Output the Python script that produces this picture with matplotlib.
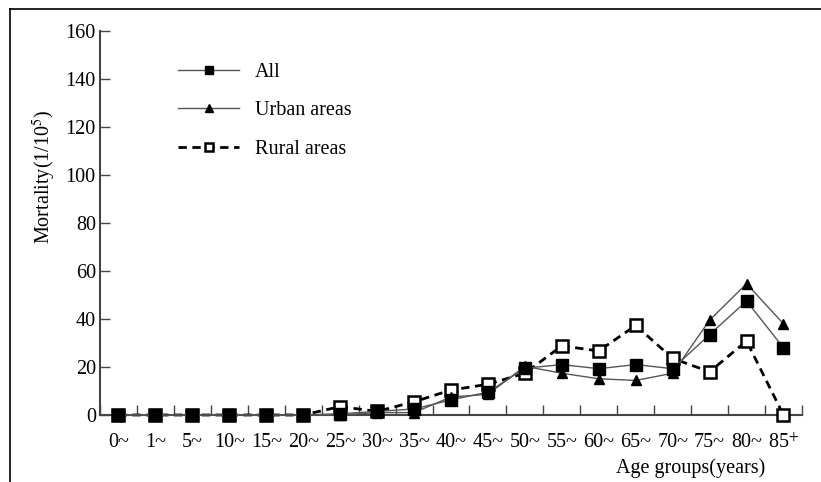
import numpy as np
import matplotlib
matplotlib.use("Agg")
import matplotlib.pyplot as plt
from matplotlib.lines import Line2D

plt.rcParams['font.family'] = ['Liberation Serif', 'DejaVu Serif']
plt.rcParams['mathtext.fontset'] = 'stix'

# age groups and mortality (1/10^5)
age_groups = ['0~', '1~', '5~', '10~', '15~', '20~', '25~', '30~', '35~', '40~',
              '45~', '50~', '55~', '60~', '65~', '70~', '75~', '80~', '85$^{+}$']
all_rate = [0, 0, 0, 0, 0, 0, 0.5, 1.5, 2.5, 6.3, 9.5, 19.5, 21, 19.3, 21, 19.3, 33.5, 47.5, 28]
urban_rate = [0, 0, 0, 0, 0, 0, 0, 1, 1, 7.5, 8.6, 20.3, 17.4, 15.1, 14.4, 17.4, 39.5, 54.7, 38]
rural_rate = [0, 0, 0, 0, 0, 0, 3.5, 1.5, 5.5, 10.4, 12.8, 17.4, 28.8, 26.7, 37.3, 23.6, 18, 30.8, 0]
y_ticks = [0, 20, 40, 60, 80, 100, 120, 140, 160]

fs = 14.5
fig = plt.figure(figsize=(8.21, 4.82), dpi=100)
ax = fig.add_axes([0.1218, 0.139, 0.855, 0.7967])

x = np.arange(len(age_groups))
ax.plot(x, rural_rate, '--', color='black', lw=2.0, dashes=(3, 2), marker='s', ms=8.5,
        mfc='white', mec='black', mew=1.8, label='Rural areas', zorder=3, clip_on=False)
ax.plot(x, urban_rate, '-', color='#555555', lw=1.0, marker='^', ms=7.5,
        mfc='black', mec='black', label='Urban areas', zorder=4, clip_on=False)
ax.plot(x, all_rate, '-', color='#555555', lw=1.0, marker='s', ms=8,
        mfc='black', mec='black', label='All', zorder=5, clip_on=False)

ax.set_xlim(-0.5, len(age_groups) - 0.5)
ax.set_ylim(0, 160)
ax.set_yticks(y_ticks)
ax.set_xticks(x)
ax.set_xticklabels(age_groups, fontsize=fs)
ax.set_xticks(np.arange(-0.5, len(age_groups)), minor=True)
ax.tick_params(axis='x', which='major', length=0, pad=13)
ax.tick_params(axis='x', which='minor', direction='in', length=7, width=1, color='#444444')
ax.tick_params(axis='y', direction='in', length=7, width=1, color='#444444', labelsize=fs, pad=3)

for side in ['top', 'right']:
    ax.spines[side].set_visible(False)
for side in ['left', 'bottom']:
    ax.spines[side].set_color('#444444')
    ax.spines[side].set_linewidth(1.5)

ax.set_ylabel('Mortality(1/10$^5$)', fontsize=fs)
ax.yaxis.set_label_coords(-0.06, 0.62)
fig.text(0.932, 0.008, 'Age groups(years)', fontsize=fs, ha='right', va='bottom')

handles, labels = ax.get_legend_handles_labels()
order = [2, 1, 0]
leg = ax.legend([handles[i] for i in order], [labels[i] for i in order],
                loc='upper left', bbox_to_anchor=(0.086, 0.965), frameon=False,
                fontsize=fs, handlelength=3.0, handletextpad=0.8, labelspacing=0.98,
                markerscale=0.75)

# outer frame (top and left only)
fig.add_artist(Line2D([0.012, 1.0], [0.981, 0.981], color='black', lw=1.2, transform=fig.transFigure))
fig.add_artist(Line2D([0.012, 0.012], [0.0, 0.981], color='black', lw=1.2, transform=fig.transFigure))

fig.savefig('out.png', dpi=100)
